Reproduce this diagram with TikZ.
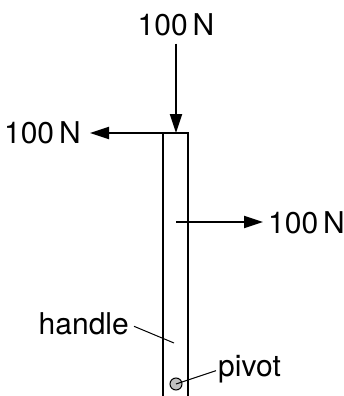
\documentclass[tikz,border=0pt]{standalone}
\usepackage{fontspec}
\setmainfont{TeX Gyre Heros}
\usetikzlibrary{arrows.meta}

\begin{document}
\begin{tikzpicture}[x=1pt,y=-1pt]
\tikzstyle{force}=[line width=2pt, -{Triangle[length=19pt,width=12pt]}]
\tikzstyle{lbl}=[inner sep=0pt, font=\fontsize{30}{32}\selectfont]
\tikzstyle{leader}=[line width=1pt]

\useasboundingbox (0,0) rectangle (344,396);

% handle
\coordinate (hbl) at (163,396);
\coordinate (htl) at (163,133);
\coordinate (htr) at (188,133);
\coordinate (hbr) at (188,396);
\draw[line width=2pt] (hbl) -- (htl) -- (htr) -- (hbr);

\coordinate (top) at (176,133);
\coordinate (mid) at (176,222);
\coordinate (hpt) at (174,343);

% forces
\node[lbl, anchor=base] (ftop) at (176,36) {100\,N};
\node[lbl, anchor=base east] (fleft) at (81,143) {100\,N};
\node[lbl, anchor=base west] (fright) at (268,233) {100\,N};

\draw[force, shorten <=7pt] (ftop.south) -- (top);
\draw[force, shorten >=9pt] (top) -- (fleft.east |- top);
\draw[force, shorten >=5pt] (mid) -- (fright.west |- mid);

% labels
\node[lbl, anchor=base east] (hname) at (129,334) {handle};
\node[lbl, anchor=base west] (pname) at (218,376) {pivot};
\node[circle, draw, line width=1pt, fill=gray!50, minimum size=12pt, inner sep=0pt] (pivot) at (176,384) {};

\draw[leader] ([shift={(5pt,-3pt)}]hname.east) -- (hpt);
\draw[leader] (pivot.center) -- ([shift={(-2pt,-2pt)}]pname.west);
\end{tikzpicture}
\end{document}
